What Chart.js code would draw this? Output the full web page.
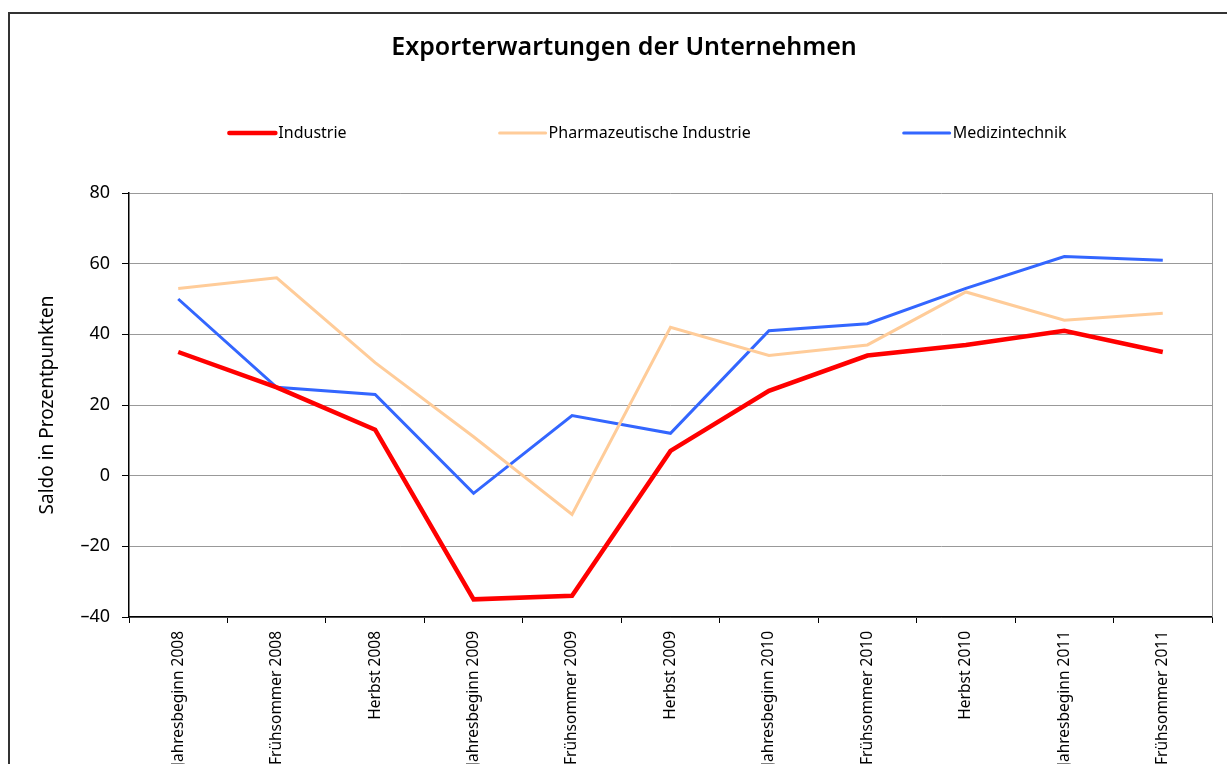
<!DOCTYPE html>
<html>
<head>
<meta charset="utf-8">
<script src="https://cdn.jsdelivr.net/npm/chart.js@4.4.1/dist/chart.umd.min.js"></script>
<style>
    html, body { margin: 0; padding: 0; background: #fff; overflow: hidden; }
    #frame {
        position: absolute; left: 8px; top: 12px;
        width: 1260px; height: 800px;
        border: 2px solid #333;
    }
    #exportChart { position: absolute; left: 0; top: 0; }
</style>
</head>
<body>
<div id="frame">
    <canvas id="exportChart" width="1236" height="800"></canvas>
</div>
<script>
const periods = [
    'Jahresbeginn 2008', 'Frühsommer 2008', 'Herbst 2008',
    'Jahresbeginn 2009', 'Frühsommer 2009', 'Herbst 2009',
    'Jahresbeginn 2010', 'Frühsommer 2010', 'Herbst 2010',
    'Jahresbeginn 2011', 'Frühsommer 2011'
];
const industrie = [35, 25, 13, -35, -34, 7, 24, 34, 37, 41, 35];
const pharma = [53, 56, 32, 11, -11, 42, 34, 37, 52, 44, 46];
const medizin = [50, 25, 23, -5, 17, 12, 41, 43, 53, 62, 61];
const yTicks = [-40, -20, 0, 20, 40, 60, 80];

const fontFamily = '"Noto Sans", sans-serif';

// legend drawn by hand, items spread out like the original
const spreadLegend = {
    id: 'spreadLegend',
    afterDraw(chart, args, opts) {
        const ctx = chart.ctx;
        ctx.save();
        ctx.font = opts.fontSize + 'px ' + fontFamily;
        ctx.textBaseline = 'middle';
        const items = chart.data.datasets.map(ds => ({
            text: ds.label,
            color: ds.borderColor,
            width: ds.borderWidth,
            w: opts.lineLen + opts.textGap + ctx.measureText(ds.label).width
        }));
        const total = items.reduce((s, it) => s + it.w, 0) + opts.gap * (items.length - 1);
        let x = opts.center - total / 2;
        items.forEach(it => {
            ctx.strokeStyle = it.color;
            ctx.lineWidth = it.width;
            ctx.lineCap = 'round';
            ctx.beginPath();
            ctx.moveTo(x, opts.y);
            ctx.lineTo(x + opts.lineLen, opts.y);
            ctx.stroke();
            ctx.fillStyle = '#000';
            ctx.fillText(it.text, x + opts.lineLen + opts.textGap, opts.y);
            x += it.w + opts.gap;
        });
        ctx.restore();
    }
};

// gray right edge of the plot area
const plotEdge = {
    id: 'plotEdge',
    beforeDatasetsDraw(chart) {
        const { ctx, chartArea } = chart;
        ctx.save();
        ctx.strokeStyle = '#999';
        ctx.lineWidth = 1;
        ctx.beginPath();
        ctx.moveTo(chartArea.right + 0.5, chartArea.top);
        ctx.lineTo(chartArea.right + 0.5, chartArea.bottom);
        ctx.stroke();
        ctx.restore();
    }
};

new Chart(document.getElementById('exportChart'), {
    type: 'line',
    data: {
        labels: periods,
        datasets: [{
            label: 'Industrie',
            data: industrie,
            borderColor: '#ff0000',
            borderWidth: 4.5
        },
        {
            label: 'Pharmazeutische Industrie',
            data: pharma,
            borderColor: '#ffcc99',
            borderWidth: 3
        },
        {
            label: 'Medizintechnik',
            data: medizin,
            borderColor: '#3366ff',
            borderWidth: 3
        }]
    },
    plugins: [spreadLegend, plotEdge],
    options: {
        responsive: false,
        animation: false,
        layout: { padding: { left: 26, right: 34, top: 0, bottom: 0 } },
        elements: {
            point: { radius: 0 },
            line: { tension: 0, borderJoinStyle: 'miter' }
        },
        scales: {
            x: {
                offset: true,
                afterFit: (scale) => { scale.height = 197; },
                grid: {
                    offset: true,
                    drawOnChartArea: false,
                    tickLength: 6,
                    tickColor: '#000'
                },
                border: { color: '#000', width: 1.5 },
                ticks: {
                    minRotation: 90,
                    maxRotation: 90,
                    padding: 8,
                    color: '#000',
                    font: { family: fontFamily, size: 15.5 }
                }
            },
            y: {
                min: -40,
                max: 80,
                afterFit: (scale) => { scale.width = 93; },
                afterBuildTicks: (scale) => { scale.ticks = yTicks.map(v => ({ value: v })); },
                grid: {
                    color: '#999',
                    tickLength: 7,
                    tickColor: '#000'
                },
                border: { color: '#000', width: 1.5 },
                ticks: {
                    padding: 12,
                    color: '#000',
                    font: { family: fontFamily, size: 18 },
                    callback: (v) => String(v).replace('-', '\u2013')
                },
                title: {
                    display: true,
                    text: 'Saldo in Prozentpunkten',
                    color: '#000',
                    padding: 0,
                    font: { family: fontFamily, size: 19 }
                }
            }
        },
        plugins: {
            legend: { display: false },
            tooltip: { enabled: false },
            title: {
                display: true,
                text: 'Exporterwartungen der Unternehmen',
                color: '#000',
                font: { family: fontFamily, size: 25, weight: 600 },
                padding: { top: 19, bottom: 130 }
            },
            spreadLegend: {
                y: 119,
                center: 638,
                gap: 153,
                lineLen: 46,
                textGap: 3,
                fontSize: 16
            }
        }
    }
});
</script>
</body>
</html>
